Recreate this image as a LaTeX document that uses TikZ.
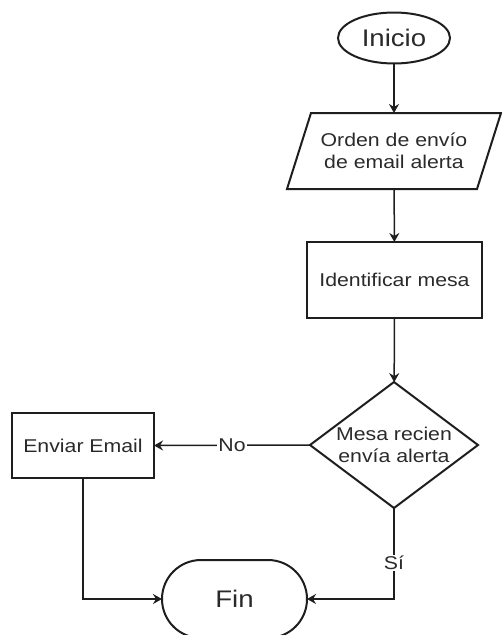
\documentclass[tikz,border=0pt]{standalone}
\usepackage{fontspec}
\setmainfont{Liberation Sans}[FakeStretch=1.15]
\usetikzlibrary{shapes.geometric,arrows.meta}
\definecolor{ink}{HTML}{1E1E1E}
\definecolor{txt}{HTML}{2A2A2A}
\begin{document}
\begin{tikzpicture}[x=1pt,y=-1pt,
  every node/.style={inner sep=0pt,outer sep=0pt,text=txt,align=center,
    font=\fontsize{18.5}{22}\selectfont},
  shapeline/.style={draw=ink,line width=2pt},
  terminal/.style={shapeline,ellipse},
  stadium/.style={shapeline,rectangle,rounded corners=39pt},
  procbox/.style={shapeline,rectangle},
  iobox/.style={rectangle},
  decision/.style={shapeline,diamond},
  flow/.style={draw=ink,line width=1.5pt,-{Stealth[length=9pt,width=10pt,inset=3pt]}},
  edgelabel/.style={fill=white,inner sep=1pt}]
  \useasboundingbox (0,0) rectangle (502,635);

  % start
  \node[terminal,minimum width=112,minimum height=51,
        font=\fontsize{24}{28}\selectfont] (ini) at (394,38) {Inicio};

  % input: order to send the alert email (parallelogram drawn round the node)
  \node[iobox,minimum width=190,minimum height=76] (ord) at (394,151)
    {Orden de envío\\de email alerta};
  \draw[shapeline] ([xshift=12pt]ord.north west) -- ([xshift=12pt]ord.north east)
    -- ([xshift=-12pt]ord.south east) -- ([xshift=-12pt]ord.south west) -- cycle;

  % process
  \node[procbox,minimum width=175,minimum height=76] (ide) at (394.5,280)
    {Identificar mesa};

  % decision
  \node[decision,minimum width=168,minimum height=126,
        label={[font=\fontsize{18.5}{22}\selectfont]center:{Mesa recien\\envía alerta}}]
        (dec) at (394,445) {};

  % send email
  \node[procbox,minimum width=142,minimum height=65] (env) at (83,445.5)
    {Enviar Email};

  % end
  \node[stadium,minimum width=145,minimum height=78,
        font=\fontsize{24}{28}\selectfont] (fin) at (234.5,599) {Fin};

  % connectors
  \draw[flow] (ini) -- (ord);
  \draw[flow] (ord) -- (ide);
  \draw[flow] (ide) -- (dec);
  \draw[flow] (dec.west) -- node[edgelabel]{No} (env.east);
  \draw[flow] (env.south) |- (fin.west);
  \draw[flow] (dec.south) |- node[edgelabel,pos=0.3]{Sí} (fin.east);
\end{tikzpicture}
\end{document}
